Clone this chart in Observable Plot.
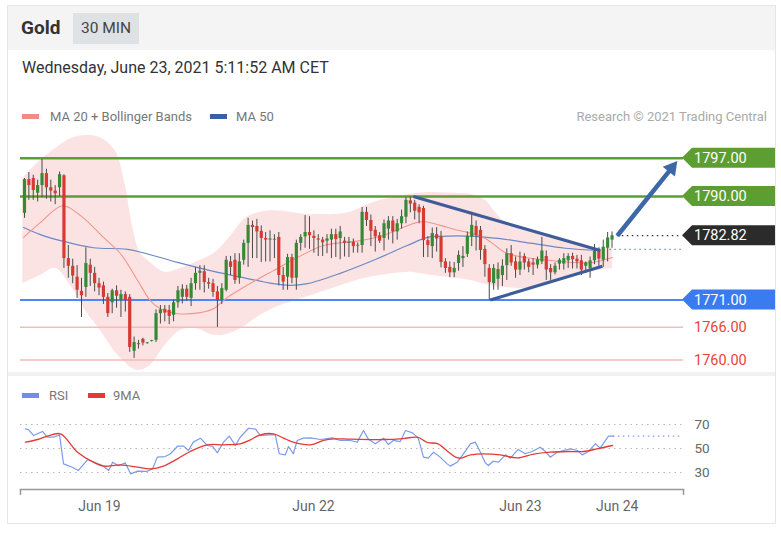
<!DOCTYPE html>
<html><head><meta charset="utf-8">
<script src="https://cdn.jsdelivr.net/npm/d3@7"></script>
<script src="https://cdn.jsdelivr.net/npm/@observablehq/plot@0.6"></script>
<style>
body{margin:0;background:#fff;font-family:Roboto,"Liberation Sans",sans-serif;width:781px;height:535px;overflow:hidden;position:relative}
.abs{position:absolute}
#card{left:7px;top:5px;width:769px;height:519px;border:1px solid #e6e6e6;box-sizing:border-box}
#hdr{left:8px;top:6px;width:767px;height:44px;background:#f4f4f4}
#gold{left:21px;top:16px;font-size:19px;font-weight:bold;color:#333}
#tf{left:73px;top:13px;width:66px;height:31px;background:#dfe2e5;color:#444;font-size:15.5px;line-height:31px;text-align:center}
#date{left:22px;top:58px;font-size:16px;color:#333}
.leg{font-size:13px;color:#777;line-height:15px}
.sw{width:17px;height:5px}
#sep{left:8px;top:372px;width:767px;height:4px;background:#f1f1f1}
</style></head><body>
<div id="card" class="abs"></div>
<div id="hdr" class="abs"></div>
<div id="gold" class="abs">Gold</div>
<div id="tf" class="abs">30 MIN</div>
<div id="date" class="abs">Wednesday, June 23, 2021 5:11:52 AM CET</div>
<div class="abs sw" style="left:22px;top:114px;background:#f28b86"></div>
<div class="abs leg" style="left:50px;top:109px">MA 20 + Bollinger Bands</div>
<div class="abs sw" style="left:210px;top:114px;background:#3a5fa8"></div>
<div class="abs leg" style="left:236px;top:109px">MA 50</div>
<div class="abs leg" style="right:14px;top:109px;color:#aaa">Research © 2021 Trading Central</div>
<div id="main" class="abs" style="left:8px;top:130px"></div>
<div id="sep" class="abs"></div>
<div class="abs sw" style="left:22px;top:393px;background:#6d8fe6"></div>
<div class="abs leg" style="left:49px;top:388px">RSI</div>
<div class="abs sw" style="left:88px;top:393px;background:#e53935"></div>
<div class="abs leg" style="left:113px;top:388px">9MA</div>
<div id="rsi" class="abs" style="left:8px;top:405px"></div>
<script>
// ---- candles (30 min bars, index 0..134) ----
const candleOpen = [1786.9,1793.1,1793.3,1790.6,1792.0,1794.2,1791.6,1791.0,1791.6,1793.8,
1778.6,1777.2,1775.2,1772.6,1773.3,1777.4,1775.9,1774.0,1773.6,1771.5,
1770.5,1772.7,1771.0,1772.0,1771.5,1761.6,1763.0,1763.8,1763.0,1763.4,
1763.6,1768.5,1769.3,1769.1,1768.2,1770.5,1771.5,1773.0,1771.3,1774.0,
1775.9,1776.2,1774.2,1774.0,1772.5,1770.9,1772.8,1778.0,1778.3,1775.0,
1778.3,1781.4,1784.7,1784.5,1783.6,1782.3,1782.0,1782.0,1782.5,1775.5,
1775.2,1778.8,1775.0,1781.4,1782.6,1783.4,1782.7,1782.2,1782.0,1781.8,
1782.0,1783.0,1782.3,1781.8,1781.4,1781.6,1780.9,1781.0,1787.1,1785.6,
1783.8,1782.8,1782.3,1784.0,1785.5,1783.5,1785.0,1786.2,1789.2,1788.8,
1788.0,1787.8,1781.9,1780.8,1783.0,1782.6,1778.0,1777.0,1776.0,1777.7,
1778.6,1779.4,1782.6,1784.5,1783.8,1780.3,1776.8,1774.0,1774.8,1775.5,
1777.3,1779.5,1778.0,1776.5,1779.0,1778.0,1777.8,1777.4,1778.0,1779.0,
1776.8,1776.0,1777.6,1777.6,1778.2,1779.0,1778.5,1778.2,1777.2,1776.8,
1778.2,1780.0,1778.3,1780.5,1782.0];
const candleHigh = [1793.3,1794.4,1793.9,1793.0,1796.8,1795.0,1793.0,1792.0,1794.5,1794.0,
1781.0,1778.5,1777.3,1775.0,1780.6,1778.5,1777.0,1775.0,1774.3,1772.2,
1773.0,1773.6,1772.8,1772.5,1772.0,1764.2,1763.6,1764.0,1763.2,1763.6,
1769.2,1770.0,1770.0,1770.0,1771.0,1773.5,1773.8,1773.7,1775.0,1777.0,
1777.3,1777.3,1775.0,1774.8,1773.5,1774.0,1779.0,1779.0,1779.5,1779.5,
1782.0,1786.0,1785.5,1785.8,1784.6,1783.4,1783.7,1783.0,1783.4,1777.0,
1779.4,1779.4,1782.0,1783.0,1786.5,1786.3,1783.7,1783.0,1782.5,1783.0,
1784.0,1784.0,1784.5,1782.5,1782.5,1782.2,1781.5,1788.0,1788.0,1786.6,
1784.5,1783.4,1785.7,1786.3,1786.3,1785.8,1787.5,1789.8,1789.9,1789.3,
1788.5,1788.2,1782.6,1784.2,1784.3,1783.6,1778.6,1778.0,1777.9,1780.0,
1780.8,1783.5,1787.1,1785.5,1784.5,1781.0,1777.5,1777.5,1777.8,1778.4,
1780.4,1781.0,1778.9,1779.8,1779.5,1778.5,1778.6,1778.9,1782.5,1780.0,
1777.5,1777.8,1778.6,1779.5,1779.5,1779.6,1779.2,1779.2,1778.0,1778.9,
1781.2,1780.6,1782.0,1783.4,1783.5];
const candleLow = [1786.0,1789.3,1789.3,1789.0,1789.8,1789.5,1789.0,1788.5,1790.0,1776.8,
1775.0,1774.0,1771.3,1767.8,1771.5,1773.5,1772.5,1771.8,1770.2,1767.8,
1768.5,1769.5,1767.8,1768.8,1761.4,1760.3,1762.0,1762.6,1762.9,1763.3,
1763.2,1766.6,1767.0,1766.5,1767.0,1769.5,1770.3,1770.8,1769.8,1772.8,
1772.8,1772.3,1773.0,1771.5,1766.0,1770.2,1772.5,1775.5,1773.9,1773.9,
1777.4,1777.0,1778.6,1778.6,1777.9,1778.0,1778.0,1778.6,1773.6,1772.8,
1772.8,1774.0,1772.8,1780.0,1780.5,1780.3,1779.6,1779.0,1779.0,1779.5,
1778.6,1778.8,1778.4,1778.9,1778.8,1779.6,1779.6,1779.6,1784.5,1780.8,
1779.8,1781.4,1780.0,1782.0,1781.3,1782.0,1784.0,1785.0,1787.0,1785.7,
1785.0,1778.8,1778.8,1778.6,1779.8,1776.9,1775.9,1775.1,1775.1,1776.3,
1777.0,1778.8,1780.8,1780.0,1778.3,1775.2,1771.0,1772.8,1772.8,1773.5,
1774.6,1777.2,1775.0,1775.5,1776.5,1776.0,1775.5,1776.7,1777.5,1774.6,
1774.6,1775.6,1776.5,1776.5,1776.8,1776.7,1776.7,1775.5,1775.9,1775.0,
1777.5,1777.0,1777.0,1778.0,1780.5];
const candleClose = [1793.1,1792.0,1791.1,1792.0,1794.2,1791.6,1791.0,1790.5,1794.0,1778.6,
1777.2,1775.4,1772.8,1771.8,1777.7,1775.9,1774.0,1773.2,1771.5,1768.5,
1772.7,1771.7,1772.0,1770.9,1762.3,1763.2,1762.8,1763.1,1763.1,1763.5,
1768.5,1769.2,1768.6,1768.0,1770.5,1772.7,1773.0,1771.5,1774.0,1775.9,
1776.3,1774.2,1773.9,1772.4,1770.9,1773.1,1778.3,1777.0,1774.6,1778.0,
1781.4,1784.7,1784.3,1783.5,1782.3,1782.0,1782.2,1782.0,1775.5,1774.3,
1778.8,1775.0,1781.4,1782.5,1783.4,1782.8,1782.3,1782.0,1781.5,1782.2,
1783.0,1782.1,1783.5,1781.4,1781.6,1780.8,1781.0,1787.1,1785.6,1783.6,
1782.6,1781.8,1785.0,1785.5,1783.5,1785.0,1786.3,1789.3,1788.6,1787.3,
1787.0,1781.9,1781.0,1783.2,1782.2,1777.9,1776.8,1776.0,1776.8,1779.2,
1779.0,1782.7,1784.7,1782.8,1780.1,1777.5,1774.2,1776.8,1776.6,1777.2,
1779.5,1777.8,1776.5,1778.0,1777.8,1777.0,1777.4,1778.4,1780.0,1776.5,
1776.0,1777.2,1778.3,1778.6,1779.0,1778.4,1778.0,1776.5,1777.8,1778.2,
1780.0,1778.5,1780.7,1782.4,1782.8];

// ---- Bollinger bands / moving averages (read at bar positions) ----
const bandIdx = [-0.4,3.6,7.1,10.5,13.9,17.3,20.7,23.0,24.6,26.4,28.7,32.1,35.6,39.0,43.5,47.0,50.4,53.8,57.2,60.6,64.1,67.5,70.9,74.3,77.7,81.2,84.6,88.0,91.4,94.8,98.3,101.7,105.1,107.4,109.7,113.1,116.5,119.9,123.3,126.8,130.2,134.1];
const bandUpper = [1793.3,1796.6,1798.8,1800.6,1801.2,1800.8,1798.4,1792.0,1784.7,1779.7,1777.9,1776.1,1776.8,1777.9,1779.7,1782.7,1786.0,1787.1,1787.4,1787.1,1786.7,1786.7,1786.7,1787.1,1788.3,1789.3,1789.8,1790.4,1790.7,1790.7,1790.6,1790.4,1789.3,1787.1,1785.2,1784.1,1783.6,1783.0,1782.3,1781.4,1780.6,1780.5];
const bandLower = [1774.0,1775.5,1776.8,1773.7,1769.1,1765.4,1761.4,1759.5,1758.4,1758.1,1759.0,1762.7,1765.4,1765.8,1764.5,1764.9,1766.3,1768.2,1769.6,1770.6,1771.5,1772.4,1773.3,1774.2,1775.0,1775.5,1775.9,1776.1,1775.7,1775.3,1775.0,1774.6,1773.9,1773.5,1773.3,1773.1,1773.5,1774.4,1775.3,1776.1,1776.4,1776.8];
const ma20Idx = [-0.2,3.6,8.7,12.8,18.0,21.9,25.8,28.7,31.0,34.9,40.1,43.1,46.3,49.9,53.8,56.8,62.2,68.2,73.2,76.6,81.6,85.7,88.5,91.0,94.8,98.3,101.2,105.1,109.7,114.2,119.5,124.9,129.5,134.1];
const ma20Val = [1782.5,1785.2,1788.3,1786.5,1782.5,1779.5,1774.6,1770.9,1769.4,1768.5,1768.7,1769.4,1771.5,1773.3,1775.1,1776.4,1778.8,1781.0,1781.6,1781.9,1782.8,1784.1,1785.0,1785.4,1784.7,1783.9,1783.4,1782.3,1779.7,1778.8,1778.3,1777.9,1777.9,1778.8];
const ma50Idx = [-0.2,3.6,8.2,15.7,23.5,31.0,34.9,42.4,49.9,56.8,60.6,64.5,72.0,79.6,87.3,91.9,94.8,102.4,108.1,115.8,123.3,131.3];
const ma50Val = [1784.3,1783.0,1781.9,1780.6,1780.3,1778.8,1777.9,1776.4,1775.1,1774.0,1773.7,1774.0,1775.9,1778.3,1781.0,1782.5,1782.7,1782.7,1782.3,1781.4,1780.5,1780.1];

// ---- levels and drawings ----
const levelVals = [1797, 1790, 1782.82, 1771, 1766, 1760];
const levelKind = ["res", "res", "last", "sup", "sup2", "sup2"];
const triUpper = [[88.7, 1790.0], [131.3, 1780.1]];
const triLower = [[106.2, 1771.0], [131.8, 1777.2]];
const arrowPts = [[135.2, 1782.8], [147.6, 1795.2]];
const arrowAngle = 38.7;
const projLast = 1782.82, projMA = 1780.3, projStart = 135.2, projMAStart = 133.5, projEnd = 150.0;

// ---- RSI ----
const rsiIdx = [0.2,0.9,2.1,4.1,5.2,6.6,8.0,8.9,10.9,12.3,14.4,16.2,17.8,19.2,20.1,21.4,23.0,24.2,25.8,28.0,29.2,30.3,32.1,33.3,34.9,36.3,37.4,38.5,40.1,41.7,42.9,44.0,45.4,46.7,48.1,49.2,51.1,52.7,53.8,55.6,57.2,58.1,59.5,60.2,61.3,62.2,63.6,65.2,67.5,70.2,72.0,74.3,75.9,77.3,78.4,80.0,81.9,83.0,84.1,85.7,86.9,88.5,89.8,91.0,92.1,93.3,94.8,96.4,97.1,98.7,100.1,101.7,102.8,104.0,105.1,105.8,106.9,108.1,109.7,110.8,112.6,114.2,115.8,117.6,118.8,119.9,121.5,122.9,124.5,126.1,127.2,128.6,130.2,131.3,132.5,133.2,134.3];
const rsiVal = [66.4,65.8,60.8,64.2,59.4,59.4,61.4,37.2,34.4,31.7,40.8,38,35.8,31.7,38.6,35.6,38,28.9,31.1,31,33,42.8,43.3,45.6,51.9,52,48.3,55.3,58.6,52.5,51.7,46.4,55.3,60.3,52.5,59.4,66.9,66.1,60.8,61.4,61.4,45.6,44.7,51.7,45.6,56.7,58.6,58.9,57.5,58.9,56.7,56.7,55.3,65,58,53.9,58.6,53.3,56.7,55.8,65,63,58.6,42.8,42,46.9,42.8,37.2,35.3,38.6,45.6,53.9,55.3,46.9,38,35.8,39.4,38.6,44.7,41.9,49.2,45.6,47.5,51.1,47.5,42.8,46.9,48.3,49.7,48.3,44.7,47.5,53.9,50.3,56.7,60.3,60.3];
const maRsiIdx = [0.2,3.0,5.2,8.2,12.1,15.7,18.0,21.9,25.8,28.7,31.7,34.9,37.8,41.7,45.4,49.2,51.5,53.8,56.8,59.1,61.3,65.2,68.2,70.5,74.3,81.9,86.4,89.6,91.9,94.2,96.4,98.3,99.4,101.7,104.7,108.5,112.4,116.1,119.9,123.8,127.5,130.6,134.1];
const maRsiVal = [55.3,57.5,60.3,62.2,46.9,38.6,35.3,36.4,34.4,33,35.3,41.4,47.5,53.1,53.1,53.9,57.2,61.4,62.2,58.6,55.3,53.1,56.7,58,57.8,57.5,58.3,59.4,55,54,48,42.8,41.9,44.7,45.6,44.7,42.2,45.3,46.9,47.5,47.5,49.7,52.5];
const rsiGrid = [30, 50, 70];
const dateTickIdx = [17.1, 65.9, 113.1, 135.2];
const dateTickLabels = ["Jun 19", "Jun 22", "Jun 23", "Jun 24"];
const xDomain = [-0.91, 150.3];

// ---- build tables ----
const candles = candleOpen.map((o, i) => ({i, o, h: candleHigh[i], l: candleLow[i], c: candleClose[i]}));
const band = bandIdx.map((i, k) => ({i, u: bandUpper[k], l: bandLower[k]}));
const ma20 = ma20Idx.map((i, k) => ({i, v: ma20Val[k]}));
const ma50 = ma50Idx.map((i, k) => ({i, v: ma50Val[k]}));
const rsi = rsiIdx.map((i, k) => ({i, v: rsiVal[k]}));
const maRsi = maRsiIdx.map((i, k) => ({i, v: maRsiVal[k]}));
const levels = levelVals.map((v, k) => ({v, kind: levelKind[k]}));

const GREEN = "#5c9e31", BLUE = "#4f86f7", PINK = "#f7b9b9", TRI = "#3e5c9a", ARROW = "#3d68a8";
const main = Plot.plot({
  width: 769, height: 242, marginLeft: 12, marginRight: 94, marginTop: 0, marginBottom: 0,
  x: {domain: xDomain, axis: null},
  y: {domain: [1757, 1800], range: [245.85, 11.5], axis: null},
  style: {fontFamily: "Roboto, sans-serif", background: "transparent", overflow: "visible"},
  marks: [
    Plot.areaY(band, {x: "i", y1: "l", y2: "u", fill: "#fbdada", fillOpacity: 0.75, curve: "catmull-rom"}),
    Plot.ruleY(levels.filter(d => d.kind === "res"), {y: "v", stroke: GREEN, strokeWidth: 2.5}),
    Plot.ruleY(levels.filter(d => d.kind === "sup"), {y: "v", stroke: BLUE, strokeWidth: 2}),
    Plot.ruleY(levels.filter(d => d.kind === "sup2"), {y: "v", stroke: PINK, strokeWidth: 1.5}),
    Plot.line(ma50, {x: "i", y: "v", stroke: "#6d88c4", strokeWidth: 1.2, curve: "catmull-rom"}),
    Plot.line(ma20, {x: "i", y: "v", stroke: "#f2958e", strokeWidth: 1.1, curve: "catmull-rom"}),
    Plot.ruleX(candles, {x: "i", y1: "l", y2: "h", stroke: "#4a4a4a", strokeWidth: 1}),
    Plot.ruleX(candles, {x: "i", y1: "o", y2: d => Math.abs(d.c - d.o) < 0.15 ? d.o + 0.15 : d.c, stroke: d => d.c >= d.o ? "#368a36" : "#d63a30", strokeWidth: 3.2}),
    Plot.link([triUpper, triLower], {x1: d => d[0][0], y1: d => d[0][1], x2: d => d[1][0], y2: d => d[1][1], stroke: TRI, strokeWidth: 3}),
    Plot.ruleY([projLast], {x1: projStart, x2: projEnd, stroke: "#333", strokeWidth: 1.2, strokeDasharray: "1.5,3.5"}),
    Plot.ruleY([projMA], {x1: projMAStart, x2: projEnd, stroke: "#6d8fe6", strokeWidth: 1.2, strokeDasharray: "1.5,3.5"}),
    Plot.link([arrowPts], {x1: d => d[0][0], y1: d => d[0][1], x2: d => d[1][0], y2: d => d[1][1], stroke: ARROW, strokeWidth: 4.5}),
    Plot.dot([arrowPts[1]], {x: d => d[0], y: d => d[1], symbol: "triangle2", r: 7.5, rotate: arrowAngle, fill: ARROW})
  ]
});
document.getElementById("main").appendChild(main);
// price tags on the right
{
  const ys = main.scale("y");
  const svg = d3.select(main);
  const fills = {res: GREEN, last: "#2b2b2b", sup: "#3b7bf0", sup2: null};
  levels.forEach(d => {
    const y = ys.apply(d.v);
    const f = fills[d.kind];
    if (f) svg.append("path").attr("d", `M674,${y}L684,${y - 10}L767,${y - 10}L767,${y + 10}L684,${y + 10}Z`).attr("fill", f);
    svg.append("text").attr("x", 686).attr("y", y).attr("dy", "0.36em").attr("text-anchor", "start")
      .attr("fill", f ? "#fff" : "#e8433a").attr("font-size", 14.5).attr("font-family", "Roboto, sans-serif")
      .text(d.v.toFixed(2));
  });
}

const rsiChart = Plot.plot({
  width: 769, height: 110, marginLeft: 12, marginRight: 94, marginTop: 0, marginBottom: 26,
  x: {domain: xDomain},
  y: {domain: [30, 70], range: [67, 19]},
  style: {fontFamily: "Roboto, sans-serif", background: "transparent", color: "#666"},
  marks: [
    Plot.ruleY(rsiGrid, {stroke: "#bbb", strokeWidth: 1.2, strokeDasharray: "1.5,4"}),
    Plot.axisY(rsiGrid, {anchor: "right", tickSize: 0, tickPadding: 11, fontSize: 13.5, label: null}),
    Plot.line(rsi, {x: "i", y: "v", stroke: "#7c9be8", strokeWidth: 1.2}),
    Plot.ruleY([rsiVal[rsiVal.length - 1]], {x1: rsiIdx[rsiIdx.length - 1], x2: projEnd, stroke: "#7c9be8", strokeWidth: 1.3, strokeDasharray: "1.5,3.5"}),
    Plot.line(maRsi, {x: "i", y: "v", stroke: "#e53935", strokeWidth: 1.3, curve: "catmull-rom"}),
    Plot.frame({anchor: "bottom", stroke: "#999", strokeWidth: 1.5}),
    Plot.axisX(xDomain, {anchor: "bottom", tickSize: 6, tickFormat: () => "", stroke: "#999", strokeWidth: 1.5, label: null}),
    Plot.axisX(dateTickIdx, {anchor: "bottom", tickSize: 0, tickPadding: 12, fontSize: 14, label: null, tickFormat: d => dateTickLabels[dateTickIdx.indexOf(d)]})
  ]
});
document.getElementById("rsi").appendChild(rsiChart);
</script>
</body></html>
